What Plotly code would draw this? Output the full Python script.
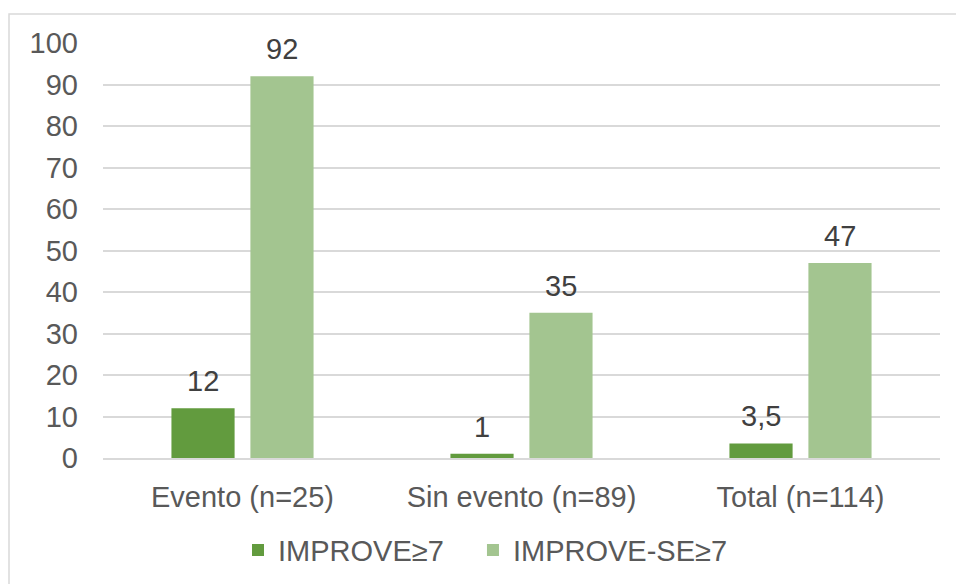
import plotly.graph_objects as go

categories = ["Evento (n=25)", "Sin evento (n=89)", "Total (n=114)"]
improve = [12, 1, 3.5]
improve_se = [92, 35, 47]
series_names = ["IMPROVE≥7", "IMPROVE-SE≥7"]
series_colors = ["#629B3E", "#A3C590"]
y_ticks = list(range(0, 101, 10))


def fmt(v):
    return f"{v:g}".replace(".", ",")


font_family = "Liberation Sans, Arial, sans-serif"
text_color = "#595959"
label_color = "#404040"
grid_color = "#D9D9D9"
fs = 29
slot_px = 39.5  # half of a bar slot inside each category group
legend_pad = "\u00a0" * 3  # extra room between the two legend entries

fig = go.Figure()
for i, (name, vals, color) in enumerate(zip(series_names, [improve, improve_se], series_colors)):
    fig.add_trace(go.Bar(
        x=categories, y=vals, name=name + (legend_pad if i == 0 else ""),
        marker=dict(color=color, line=dict(width=0)),
    ))

# value labels above each bar
annotations = []
for shift, vals in zip([-slot_px, slot_px], [improve, improve_se]):
    for cat, v in zip(categories, vals):
        annotations.append(dict(
            x=cat, y=v, xref="x", yref="y", text=fmt(v), showarrow=False,
            xshift=shift, yanchor="bottom", yshift=9,
            font=dict(size=fs, color=label_color, family=font_family),
        ))

fig.update_layout(
    width=956, height=584,
    margin=dict(l=103, r=16, t=43, b=126, autoexpand=False),
    paper_bgcolor="white", plot_bgcolor="white",
    barmode="group", bargap=0.434, bargroupgap=0.2,
    font=dict(family=font_family, size=fs, color=text_color),
    showlegend=True,
    legend=dict(orientation="h", x=(238 - 103) / 837, xanchor="left",
                y=-0.222, yanchor="middle",
                font=dict(size=fs, color=text_color), itemwidth=30,
                traceorder="normal"),
    xaxis=dict(showgrid=False, showline=True, linecolor=grid_color, linewidth=1.5,
               ticks="", ticklabelstandoff=12, tickfont=dict(size=fs, color=text_color)),
    yaxis=dict(range=[0, 100], tickvals=y_ticks, showgrid=True, gridcolor=grid_color,
               gridwidth=1.5, zeroline=False, showline=False, ticks="",
               ticklabelstandoff=24, tickfont=dict(size=fs, color=text_color)),
    annotations=annotations,
    shapes=[dict(type="rect", xref="paper", yref="paper",
                 x0=-0.1123, x1=1.2, y0=-0.6, y1=1.07,
                 line=dict(color=grid_color, width=1.5), fillcolor="rgba(0,0,0,0)",
                 layer="below")],
)

fig.write_html("out.html")
